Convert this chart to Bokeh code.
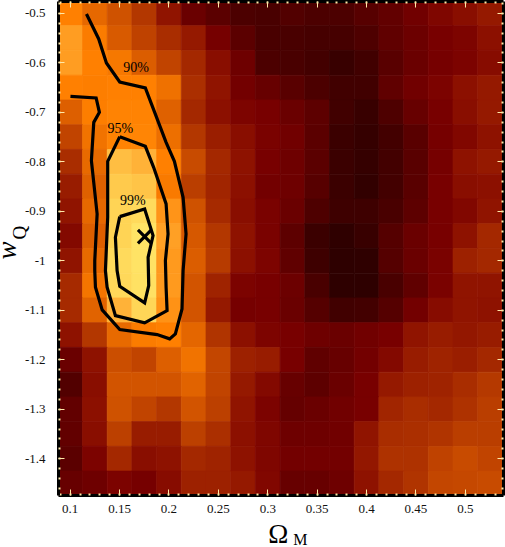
from bokeh.plotting import figure
from bokeh.embed import file_html
from bokeh.resources import INLINE
from bokeh.models import LinearColorMapper, FixedTicker, LinearAxis, Range1d, ColumnDataSource
from bokeh.core.properties import value
import numpy as np

omega_m = [0.1 + 0.025 * i for i in range(18)]
w_q = [-0.5 - 0.05 * j for j in range(20)]

# Cell level (0 darkest ... 13 brightest), one row per w_Q value, one column per Omega_M value
r00 = [9.0,7.9,6.9,5.6,4.2,2.4,1.8,1.1,1.0,1.4,1.1,1.1,1.6,2.1,2.7,3.4,3.9,4.4]
r01 = [10.3,8.8,7.3,6.1,5.2,4.4,2.9,1.8,1.0,1.0,0.9,0.9,1.2,2.0,2.5,3.0,3.3,4.0]
r02 = [10.3,9.0,8.6,7.4,6.2,5.0,3.9,2.6,1.1,1.0,0.8,0.4,0.7,1.7,2.4,2.9,3.2,3.8]
r03 = [9.0,8.9,9.0,9.0,8.3,5.3,4.2,2.8,2.3,1.7,1.1,0.7,0.7,2.0,2.7,3.2,4.0,4.4]
r04 = [7.5,8.9,9.1,9.1,7.6,5.0,4.0,3.3,3.0,2.4,1.9,0.7,0.4,1.2,2.3,3.0,3.9,4.4]
r05 = [6.2,8.4,9.1,9.2,8.2,5.6,4.6,3.9,3.1,2.7,1.8,0.5,0.3,0.8,1.7,2.9,3.5,4.1]
r06 = [5.2,8.0,11.4,11.0,9.0,6.5,5.0,4.1,3.0,2.6,1.8,0.5,0.3,0.8,1.7,2.9,4.1,4.4]
r07 = [4.5,7.6,11.8,11.6,8.7,5.9,4.9,4.0,2.8,2.6,1.6,0.5,0.2,0.8,1.7,3.0,3.9,4.0]
r08 = [4.2,7.9,12.2,12.5,10.0,6.9,5.1,3.9,3.1,2.4,1.2,0.6,0.6,1.0,1.9,3.0,3.5,4.2]
r09 = [3.6,7.5,12.2,13.0,10.4,7.2,5.6,4.1,3.1,1.9,0.5,0.1,0.4,1.5,2.4,3.0,4.1,5.0]
r10 = [4.2,8.0,12.5,12.9,10.2,7.4,5.8,4.0,3.3,2.0,0.6,0.0,0.1,1.5,2.4,3.1,4.7,5.0]
r11 = [5.1,8.5,12.4,12.8,10.2,7.0,4.8,3.2,3.0,2.5,1.0,0.0,0.0,1.0,2.0,3.1,4.2,4.2]
r12 = [5.1,7.7,11.0,12.3,9.9,7.0,4.4,2.9,3.0,2.4,1.5,0.7,0.8,1.5,2.8,3.8,4.2,4.1]
r13 = [4.1,5.6,8.0,8.8,9.0,7.8,5.5,4.0,3.3,3.0,2.6,2.4,2.7,3.0,4.2,4.5,4.3,4.5]
r14 = [2.4,4.1,6.7,6.2,7.5,8.4,6.3,4.7,4.5,3.0,2.0,2.3,2.8,3.6,4.5,4.8,4.6,5.0]
r15 = [1.4,3.9,7.0,7.0,7.0,7.7,6.2,4.4,3.6,2.3,1.9,2.4,3.0,4.4,4.7,4.8,5.2,5.7]
r16 = [2.1,4.0,6.9,6.2,5.6,7.0,6.0,4.2,3.2,2.2,2.4,2.7,3.0,4.9,5.2,5.0,5.4,5.9]
r17 = [2.1,3.9,6.0,4.5,4.5,6.0,5.3,4.0,3.4,2.6,2.6,2.7,4.2,5.2,5.3,5.5,5.9,5.9]
r18 = [1.8,3.2,5.0,3.9,4.1,5.0,4.8,4.1,3.4,2.8,2.8,2.8,4.3,5.4,5.4,6.1,6.5,6.2]
r19 = [2.3,2.6,3.2,2.9,3.8,4.7,4.7,4.4,3.5,2.3,2.3,2.6,4.1,5.0,5.5,6.3,6.4,6.5]
levels = [r00,r01,r02,r03,r04,r05,r06,r07,r08,r09,r10,r11,r12,r13,r14,r15,r16,r17,r18,r19]

stops = ["#2e0000","#4a0000","#600000","#780000","#8c1000","#a42800","#bc4000",
         "#d25400","#e86a00","#ff8000","#ff9418","#ffb238","#ffcf50","#ffe466"]

x_ticks = [0.1,0.15,0.2,0.25,0.3,0.35,0.4,0.45,0.5]
x_tick_labels = ["0.1","0.15","0.2","0.25","0.3","0.35","0.4","0.45","0.5"]
y_ticks = [-0.5,-0.6,-0.7,-0.8,-0.9,-1,-1.1,-1.2,-1.3,-1.4]
y_tick_labels = ["-0.5","-0.6","-0.7","-0.8","-0.9","-1","-1.1","-1.2","-1.3","-1.4"]

c90_x = [0.1165,0.1289,0.1367,0.1502,0.1761,0.1971,0.2055,0.2143,0.2173,0.2143,0.2132,0.2065,0.2007,0.1880,0.1502,0.1324,0.1256,0.1249,0.1249,0.1273,0.1215,0.1239,0.1296,0.1263,0.1003]
c90_y = [-0.5013,-0.5517,-0.6002,-0.6386,-0.6507,-0.7606,-0.7989,-0.8717,-0.9457,-1.0198,-1.0972,-1.1477,-1.1578,-1.1491,-1.1390,-1.0992,-1.0535,-1.0198,-0.9996,-0.9053,-0.7976,-0.7202,-0.7000,-0.6709,-0.6677]
c95_x = [0.1502,0.1761,0.1845,0.1971,0.1991,0.1964,0.1971,0.1981,0.1754,0.1458,0.1374,0.1357,0.1380,0.1380,0.1502]
c95_y = [-0.7491,-0.7687,-0.8111,-0.8851,-0.9457,-0.9996,-1.0535,-1.1006,-1.1255,-1.1107,-1.0535,-1.0198,-0.9121,-0.7989,-0.7491]
c99_x = [0.1502,0.1754,0.1839,0.1789,0.1795,0.1754,0.1502,0.1475,0.1458,0.1502]
c99_y = [-0.9107,-0.8952,-0.9491,-0.9929,-1.0501,-1.0851,-1.0515,-1.0198,-0.9525,-0.9107]

best_x = [0.1754]
best_y = [-0.9511]
contour_labels = ["90%","95%","99%"]
contour_label_x = [0.1667,0.1509,0.1635]
contour_label_y = [-0.6103,-0.7333,-0.8778]

def hex2rgb(h):
    return [int(h[i:i+2],16) for i in (1,3,5)]
rgb = np.array([hex2rgb(s) for s in stops],float)
grid = np.linspace(0,13,256)
palette = ["#%02x%02x%02x" % tuple(int(round(np.interp(g,range(14),rgb[:,k]))) for k in range(3)) for g in grid]
mapper = LinearColorMapper(palette=palette, low=0, high=13)

cx = [omega_m[i] for j in range(20) for i in range(18)]
cy = [w_q[j] for j in range(20) for i in range(18)]
cv = [levels[j][i] for j in range(20) for i in range(18)]

W,H = 505,547
p = figure(width=W+14,height=H+8,output_backend="svg",toolbar_location=None,
           x_range=Range1d(0.0882,0.5386),y_range=Range1d(-1.4743,-0.4760),
           min_border_left=72,min_border_right=2,min_border_top=9,min_border_bottom=52,
           background_fill_color=None,border_fill_color=None,outline_line_color=None)
p.frame_width=445
p.frame_height=494
p.styles={"margin-left":"-14px","margin-top":"-8px"}
p.grid.visible=False

src = ColumnDataSource(dict(x=cx,y=cy,v=cv))
cell = {"field":"v","transform":mapper}
p.rect("x","y",width=0.025,height=0.05,source=src,line_color=cell,line_width=0.7,fill_color=cell)

for xs,ys in ((c90_x,c90_y),(c95_x,c95_y),(c99_x,c99_y)):
    p.line(xs,ys,line_color="black",line_width=3.2,line_join="miter")
p.scatter(best_x,best_y,marker="x",size=19,line_color="black",line_width=3.2)
p.text(contour_label_x,contour_label_y,text=contour_labels,text_font=value("Liberation Serif"),
       text_font_size="14px",text_color="black",text_align="center",text_baseline="middle")

x_minor = [round(0.09+0.01*i,2) for i in range(46)]
y_minor = [round(-0.48-0.02*i,2) for i in range(50)]
xt = FixedTicker(ticks=x_ticks,minor_ticks=x_minor)
yt = FixedTicker(ticks=y_ticks,minor_ticks=y_minor)

def style(ax,labels=True):
    ax.major_tick_in=6; ax.major_tick_out=0
    ax.minor_tick_in=2; ax.minor_tick_out=0
    ax.major_tick_line_color="#ffe9a8"; ax.minor_tick_line_color="#ffe9a8"
    ax.major_tick_line_width=1; ax.minor_tick_line_width=2
    ax.axis_line_color="black"; ax.axis_line_width=3
    if labels:
        ax.major_label_text_font="Liberation Serif"
        ax.major_label_text_font_size="13px"
        ax.major_label_text_color="#111111"
        ax.major_label_standoff=9
    else:
        ax.major_label_standoff=0

p.xaxis[0].ticker=xt
p.yaxis[0].ticker=yt
p.xaxis[0].major_label_overrides=dict(zip(x_ticks,x_tick_labels))
p.yaxis[0].major_label_overrides=dict(zip(y_ticks,y_tick_labels))
style(p.xaxis[0]); style(p.yaxis[0])
p.yaxis[0].major_label_standoff=13
top = LinearAxis(ticker=xt,major_label_overrides={t:"" for t in x_ticks})
right = LinearAxis(ticker=yt,major_label_overrides={t:"" for t in y_ticks})
style(top,False); style(right,False)
p.add_layout(top,"above"); p.add_layout(right,"right")

def title_axis(side,pos,text,size,standoff,font_style="normal",orientation="horizontal"):
    ax = LinearAxis(ticker=FixedTicker(ticks=[pos],minor_ticks=[]),major_label_overrides={pos:text},
                    axis_line_color=None,major_tick_line_color=None,minor_tick_line_color=None,
                    major_tick_in=0,major_tick_out=0,minor_tick_in=0,minor_tick_out=0,
                    major_label_text_font="Liberation Serif",major_label_text_font_size=size,
                    major_label_text_font_style=font_style,major_label_text_color="black",
                    major_label_standoff=standoff,major_label_orientation=orientation)
    p.add_layout(ax,side)

title_axis("below",0.3106,"Ω","27px",3)
title_axis("below",0.3329,"M","16px",-21)
title_axis("left",-0.9430,"Q","19px",-9,orientation="vertical")
title_axis("left",-0.9794,"w","27px",-16,font_style="italic",orientation="vertical")

open("out.html","w").write(file_html(p,INLINE))
